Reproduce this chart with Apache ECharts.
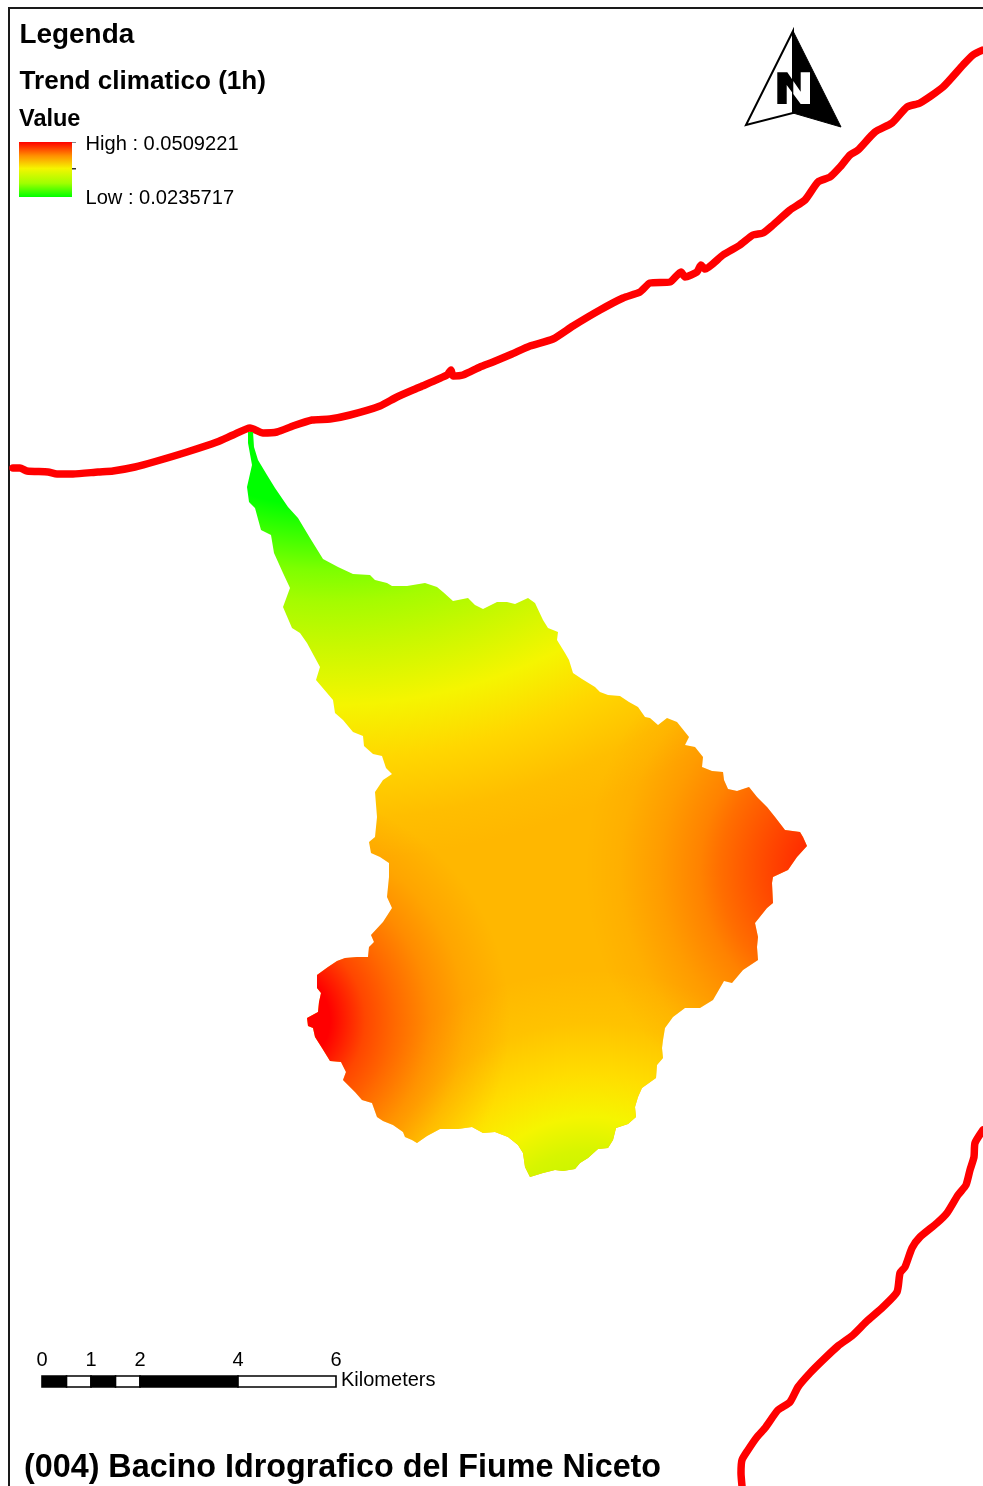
<!DOCTYPE html>
<html><head><meta charset="utf-8">
<style>html,body{margin:0;padding:0;background:#fff}#c{width:983px;height:1486px}</style>
<script src="https://cdn.jsdelivr.net/npm/echarts@6/dist/echarts.min.js"></script>
</head><body><div id="c"></div>
<script>
const basinOutline=[[248,432],[253,432],[254,447],[258,460],[267,475],[275,488],[288,507],[298,518],[310,538],[323,559],[338,567],[353,574],[370,575],[375,580],[387,583],[392,586],[407,586],[425,583],[437,587],[443,592],[453,601],[468,598],[475,605],[483,609],[497,602],[507,602],[515,604],[528,598],[535,603],[543,620],[548,628],[558,632],[557,640],[565,653],[569,660],[573,673],[582,679],[595,687],[600,692],[608,695],[620,696],[629,702],[638,707],[645,717],[650,718],[658,725],[667,718],[677,722],[685,732],[689,737],[685,745],[695,747],[703,757],[702,767],[712,771],[723,772],[724,780],[728,789],[737,791],[749,787],[757,797],[767,807],[775,817],[785,830],[800,832],[803,837],[807,846],[797,857],[788,870],[773,877],[772,883],[773,903],[767,908],[755,923],[758,937],[757,947],[758,960],[743,970],[732,983],[724,981],[713,1000],[700,1008],[685,1008],[673,1017],[665,1028],[663,1040],[662,1048],[663,1058],[657,1065],[656,1078],[642,1088],[638,1097],[635,1107],[636,1117],[628,1124],[616,1128],[613,1140],[608,1148],[598,1149],[588,1158],[580,1163],[575,1169],[563,1171],[555,1170],[543,1173],[530,1177],[525,1167],[523,1153],[518,1145],[508,1137],[495,1132],[483,1133],[472,1127],[458,1129],[440,1129],[427,1136],[417,1143],[412,1140],[405,1137],[403,1132],[393,1125],[383,1121],[377,1117],[372,1103],[362,1100],[355,1092],[343,1080],[346,1072],[341,1062],[330,1061],[322,1048],[315,1037],[313,1028],[308,1026],[307,1018],[318,1012],[319,1002],[321,993],[317,988],[317,975],[328,967],[337,961],[345,958],[357,957],[368,957],[369,947],[374,942],[371,935],[383,922],[392,908],[387,897],[389,877],[389,863],[380,857],[371,853],[369,842],[375,837],[377,817],[375,792],[383,780],[392,774],[386,768],[382,756],[373,754],[364,746],[363,736],[353,732],[343,720],[335,713],[333,700],[316,680],[320,667],[307,643],[300,633],[292,628],[283,607],[290,588],[283,573],[274,553],[271,535],[261,530],[255,508],[249,502],[247,487],[252,465],[248,443]];
const coastNorth=[[13,468],[20,468],[27,471],[48,472],[57,474],[73,474],[98,472],[113,471],[135,467],[157,461],[187,452],[217,442],[233,435],[250,428],[263,433],[277,432],[293,426],[312,420],[330,419],[350,415],[380,406],[397,397],[420,387],[447,375],[451,370],[453,376],[463,375],[480,367],[493,362],[512,354],[530,346],[553,339],[573,326],[600,310],[623,298],[640,292],[650,283],[670,282],[681,272],[685,277],[697,272],[701,265],[705,269],[723,255],[740,245],[753,235],[763,233],[773,225],[790,210],[805,200],[818,182],[830,177],[840,167],[850,155],[858,150],[875,132],[892,123],[907,107],[920,103],[943,87],[963,65],[973,55],[983,50]];
const coastSouth=[[983,1130],[975,1143],[974,1157],[970,1170],[966,1185],[958,1195],[947,1213],[937,1223],[920,1237],[912,1248],[905,1267],[900,1273],[897,1292],[883,1307],[866,1322],[853,1335],[838,1346],[823,1360],[810,1373],[798,1387],[790,1402],[778,1410],[765,1428],[757,1437],[748,1450],[742,1460],[741,1473],[742,1486]];
// colour field read from the raster: [distance from centre, colour]
const northField={c:[330,200],stops:[[250,'rgb(0,255,0)'],[306,'rgb(0,255,0)'],[370,'rgb(125,255,0)'],[402,'rgb(165,252,0)'],[445,'rgb(200,248,0)'],[505,'rgb(245,245,0)'],[560,'rgb(255,215,0)'],[620,'rgb(255,190,0)'],[660,'rgb(255,183,0)']]};
const southField={c:[590,1250],stops:[[80,'rgba(205,245,0,1)'],[100,'rgba(215,245,0,1)'],[133,'rgba(245,245,0,1)'],[177,'rgba(255,245,0,.6)'],[227,'rgba(255,245,0,.19)'],[280,'rgba(255,245,0,0)']]};
const eastField={c:[850,870],stops:[[45,'rgba(255,0,0,.78)'],[100,'rgba(255,0,0,.535)'],[130,'rgba(255,0,0,.4)'],[150,'rgba(255,0,0,.29)'],[190,'rgba(255,0,0,.15)'],[230,'rgba(255,0,0,.044)'],[265,'rgba(255,0,0,0)']]};
const westField={c:[280,1020],stops:[[50,'rgba(255,0,0,1)'],[65,'rgba(255,0,0,.836)'],[85,'rgba(255,0,0,.617)'],[115,'rgba(255,0,0,.426)'],[150,'rgba(255,0,0,.235)'],[185,'rgba(255,0,0,.098)'],[230,'rgba(255,0,0,0)']]};
const arrowLeft=[[793,31],[746,125],[793,113]];
const arrowRight=[[793,31],[841,127],[793,113]];
const letterLeft=[[777.3,72.3],[787.3,72.3],[793.3,81],[793.3,94],[786.7,85],[786.7,104],[777.3,104]];
const letterRight=[[793.3,81],[800.7,91.7],[800.7,72.3],[810,72.3],[810,104],[800.7,104],[793.3,94]];
const scaleTicks=[0,1,2,4,6];
const scaleSegments=[[0,.5,'#000'],[.5,1,'#fff'],[1,1.5,'#000'],[1.5,2,'#fff'],[2,4,'#000'],[4,6,'#fff']];
const kmX=k=>42+49*k;
const legendStops=[[0,'#ff0000'],[.25,'#ff9000'],[.48,'#f5f500'],[.75,'#a0ff00'],[1,'#00ff00']];
const font='"Liberation Sans",Arial,sans-serif';
const txt=(text,x,y,size,weight,align)=>({type:'text',x,y,silent:true,style:{text,fontFamily:font,fontSize:size,fontWeight:weight||'normal',fill:'#000',textAlign:align||'left',textVerticalAlign:'middle'}});
const chart=echarts.init(document.getElementById('c'),null,{width:983,height:1486});
const poly=(api,pts,style)=>({type:'polygon',shape:{points:pts.map(p=>api.coord(p))},style});
const rad=(api,f)=>{const R=f.stops[f.stops.length-1][0],c=api.coord(f.c);
  return new echarts.graphic.RadialGradient(c[0],c[1],R,f.stops.map(s=>({offset:s[0]/R,color:s[1]})),true);};
chart.setOption({
 animation:false,
 grid:{left:0,right:0,top:0,bottom:0},
 xAxis:{type:'value',min:0,max:983,show:false},
 yAxis:{type:'value',min:0,max:1486,inverse:true,show:false},
 graphic:[
  {type:'rect',shape:{x:8,y:7,width:2,height:1479},style:{fill:'#1a1a1a'},silent:true},
  {type:'rect',shape:{x:8,y:7,width:975,height:2},style:{fill:'#1a1a1a'},silent:true},
  txt('Legenda',19.5,35.5,27.9,'bold'),
  txt('Trend climatico (1h)',19.5,82,26.1,'bold'),
  txt('Value',19,120,23.5,'bold'),
  txt('High : 0.0509221',85.5,144.5,20.1),
  txt('Low : 0.0235717',85.5,198.5,20.1),
  txt('Kilometers',341,1380.5,20),
  txt('(004) Bacino Idrografico del Fiume Niceto',24,1468.5,32.3,'bold'),
  ...scaleTicks.map(k=>txt(String(k),kmX(k),1360.5,20,'normal','center'))
 ],
 series:[
  {type:'line',data:coastNorth,showSymbol:false,smooth:.2,lineStyle:{color:'#ff0000',width:7.5,cap:'round',join:'round'},silent:true,z:2},
  {type:'line',data:coastSouth,showSymbol:false,smooth:.2,lineStyle:{color:'#ff0000',width:7.5,cap:'round',join:'round'},silent:true,z:2},
  {type:'custom',coordinateSystem:'cartesian2d',data:[[0,0]],silent:true,z:3,clip:false,
   renderItem:(p,api)=>({type:'group',children:[northField,southField,eastField,westField].map(f=>poly(api,basinOutline,{fill:rad(api,f)}))})},
  {type:'custom',coordinateSystem:'cartesian2d',data:[[0,0]],silent:true,z:4,clip:false,
   renderItem:(p,api)=>({type:'group',children:[
     poly(api,arrowLeft,{fill:'#fff',stroke:'#000',lineWidth:2}),
     poly(api,arrowRight,{fill:'#000',stroke:'#000',lineWidth:1}),
     poly(api,letterLeft,{fill:'#000'}),
     poly(api,letterRight,{fill:'#fff'})
   ]})},
  {type:'custom',coordinateSystem:'cartesian2d',data:[[0,0]],silent:true,z:4,clip:false,
   renderItem:(p,api)=>({type:'group',children:[
     ...scaleSegments.map(s=>{const a=api.coord([kmX(s[0]),1376]),b=api.coord([kmX(s[1]),1387]);
       return {type:'rect',shape:{x:a[0],y:a[1],width:b[0]-a[0],height:b[1]-a[1]},style:{fill:s[2],stroke:'#000',lineWidth:1.6}};}),
     {type:'rect',shape:{x:19,y:142,width:53,height:55},style:{fill:new echarts.graphic.LinearGradient(0,0,0,1,legendStops.map(s=>({offset:s[0],color:s[1]})))}},
     {type:'rect',shape:{x:72,y:142,width:4,height:1},style:{fill:'#888'}},
     {type:'rect',shape:{x:72,y:168,width:4,height:1.5},style:{fill:'#333'}}
   ]})}
 ]
});
</script></body></html>
